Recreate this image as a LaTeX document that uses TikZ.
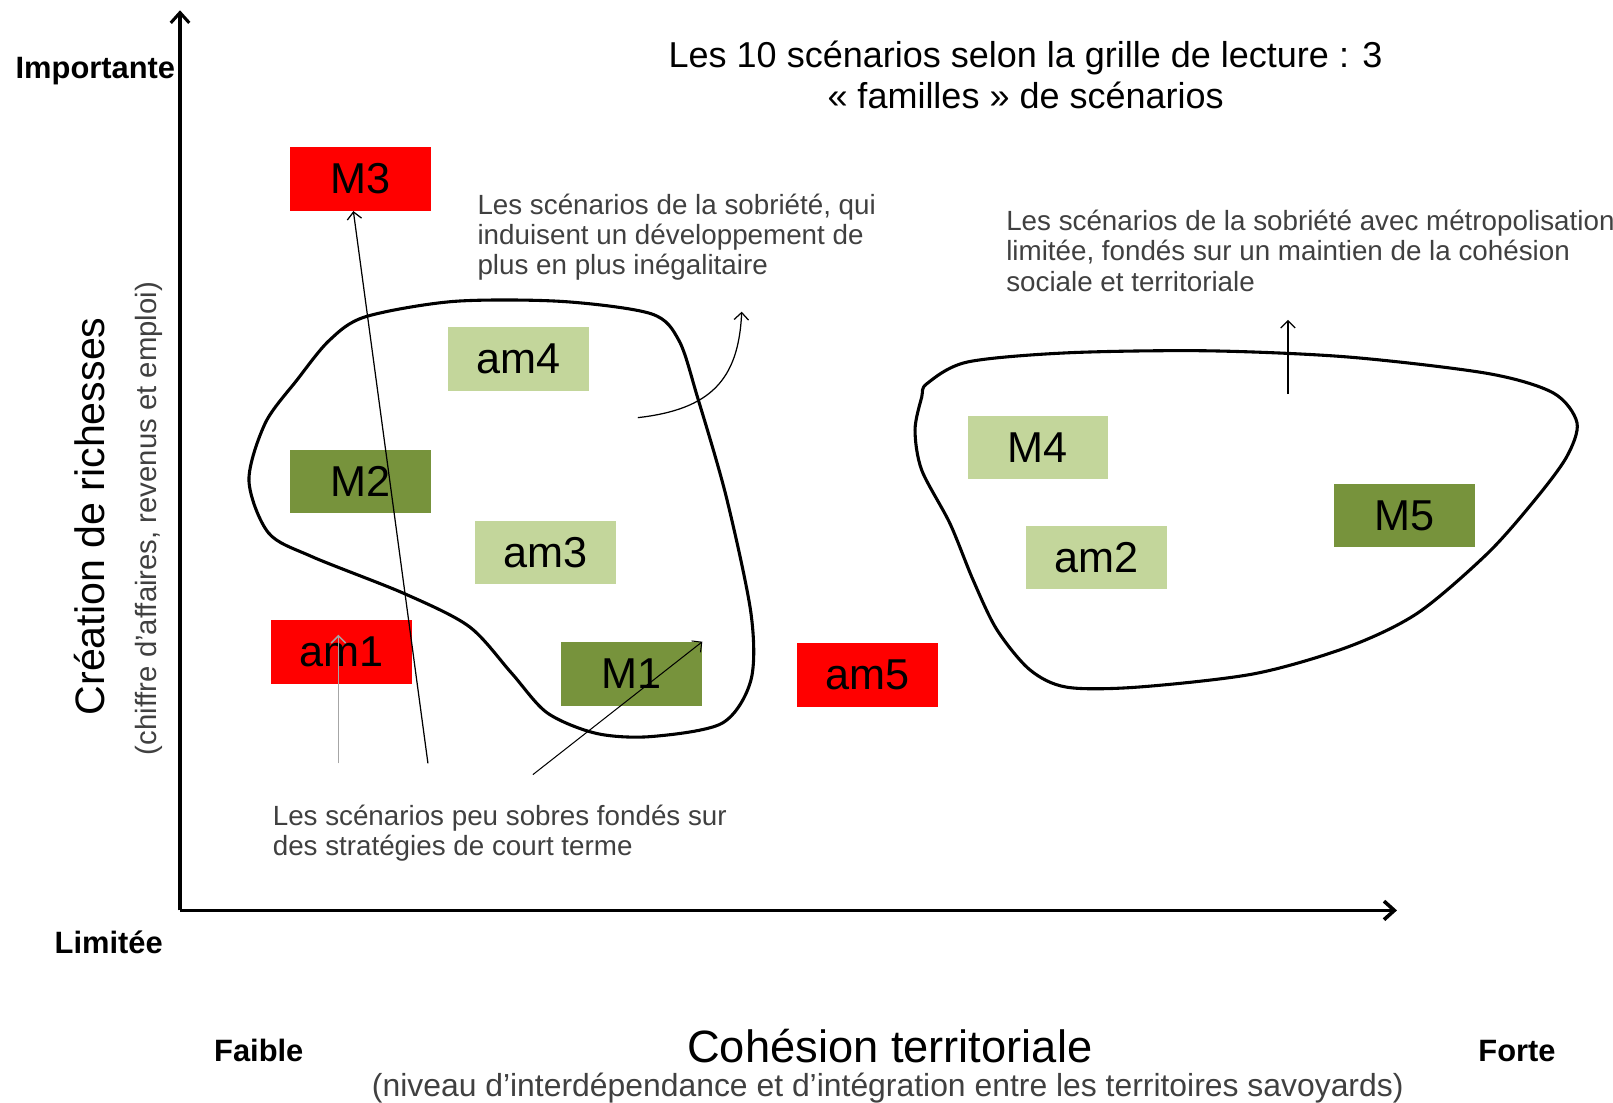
\documentclass[tikz,border=0pt]{standalone}
\usepackage{fontspec}
\setmainfont{Liberation Sans}
\usetikzlibrary{arrows.meta}
\definecolor{rouge}{HTML}{FF0000}
\definecolor{vertclair}{HTML}{C3D69B}
\definecolor{vertfonce}{HTML}{77933C}
\definecolor{gristexte}{HTML}{404040}
\begin{document}
\begin{tikzpicture}[x=1pt,y=-1pt,>={Straight Barb[length=7pt,width=14pt]},
    scen/.style={minimum width=137pt,minimum height=62pt,inner sep=0pt,font=\fontsize{42}{42}\selectfont},
    scenrouge/.style={scen,fill=rouge},
    scenfonce/.style={scen,fill=vertfonce},
    scenclair/.style={scen,fill=vertclair},
    remarque/.style={anchor=north west,inner sep=0pt,align=left,text=gristexte,font=\fontsize{27}{29.5}\selectfont},
    borne/.style={anchor=base west,inner sep=0pt,font=\bfseries\fontsize{30}{30}\selectfont},
    fleche/.style={->,line width=1.2pt}]
    \useasboundingbox (0,0) rectangle (1568,1072);
    % axes
    \coordinate (o) at (175,885);
    \draw[line width=3pt,->,>={Straight Barb[length=10pt,width=18pt]}] (o)--(175,10);
    \draw[line width=3.5pt,->,>={Straight Barb[length=10pt,width=18pt]}] (o)--(1358,885);
    \node[borne] (imp) at (15,76) {Importante};
    \node[borne] (lim) at (53,927) {Limitée};
    \node[borne] (fai) at (208,1032) {Faible};
    \node[borne] (for) at (1437,1032) {Forte};
    \node[rotate=90,font=\fontsize{40}{40}\selectfont] (richesse) at (87,502) {Création de richesses};
    \node[rotate=90,text=gristexte,font=\fontsize{28.5}{28.5}\selectfont] (richsous) at (145,504) {(chiffre d'affaires, revenus et emploi)};
    \node[anchor=base,font=\fontsize{44}{44}\selectfont] (cohesion) at (865,1033) {Cohésion territoriale};
    \node[anchor=base,text=gristexte,font=\fontsize{31}{31}\selectfont] (cohsous) at (863,1066) {(niveau d’interdépendance et d’intégration entre les territoires savoyards)};
    \node[align=center,font=\fontsize{35}{40}\selectfont] (titre) at (997,73) {Les 10 scénarios selon la grille de lecture : 3\\« familles » de scénarios};
    % scenarios
    \node[scenrouge] (m3) at (350.5,174) {M3};
    \node[scenclair] (am4) at (504,349) {am4};
    \node[scenfonce] (m2) at (350.5,468) {M2};
    \node[scenclair] (am3) at (530,537) {am3};
    \node[scenrouge] (am1) at (332,634) {am1};
    \node[scenfonce] (m1) at (614,655) {M1};
    \node[scenrouge] (am5) at (843,656) {am5};
    \node[scenclair] (m4) at (1009,435) {M4};
    \node[scenclair] (am2) at (1066,542) {am2};
    \node[scenfonce] (m5) at (1365,501) {M5};
    % familles
    \draw[line width=3pt] plot[smooth cycle] coordinates {(242,467) (261,518) (303,541) (393,577) (456,609) (497,654) (532,693) (580,713) (633,716) (702,703) (730,661) (730,596) (706,483) (678,386) (660,331) (633,305) (546,293) (441,293) (355,308) (320,331) (289,369) (258,411)};
    \draw[line width=3pt] plot[smooth cycle] coordinates {(901,373) (940,352) (1037,343) (1173,341) (1310,347) (1446,363) (1510,382) (1533,411) (1523,444) (1492,486) (1446,538) (1378,596) (1310,629) (1219,655) (1105,668) (1037,668) (1001,651) (969,612) (946,564) (923.5,509) (896,457) (889.5,418) (896,386)};
    \node[remarque] (txtineg) at (464,188) {Les scénarios de la sobriété, qui\\induisent un développement de\\plus en plus inégalitaire};
    \node[remarque] (txtcoh) at (978,204) {Les scénarios de la sobriété avec métropolisation\\limitée, fondés sur un maintien de la cohésion\\sociale et territoriale};
    \node[remarque] (txtcourt) at (265,782) {Les scénarios peu sobres fondés sur\\des stratégies de court terme};
    % fleches
    \coordinate (d1) at (416,742);
    \coordinate (d2) at (329,742);
    \coordinate (d3) at (518,753);
    \draw[fleche] (d1)--([xshift=-7pt]m3.south);
    \draw[fleche,gray!70,line width=1.5pt] (d2)--([shift={(-3,-17)}]am1.center);
    \draw[fleche,line width=1pt] (d3)--(m1.north east);
    \coordinate (c1) at (620,406);
    \coordinate (c2) at (721,303);
    \draw[fleche] (c1) .. controls (690,398) and (718,370) .. (c2);
    \coordinate (v1) at (1252,383);
    \coordinate (v2) at (1252,311);
    \draw[fleche] (v1)--(v2);
\end{tikzpicture}
\end{document}
